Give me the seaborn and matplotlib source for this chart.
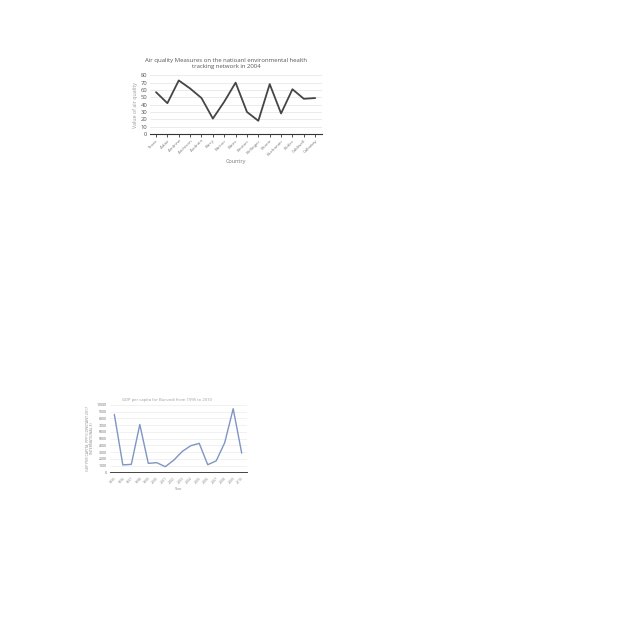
import matplotlib
matplotlib.use("Agg")
import matplotlib.pyplot as plt
import seaborn as sns
import pandas as pd

# ---- data: top chart ----
counties = ["Texas", "Adair", "Andrew", "Atchison", "Audrain", "Barry", "Barton",
            "Bates", "Benton", "Bollinger", "Boone", "Buchanan", "Butler",
            "Caldwell", "Callaway"]
air_quality = [57, 42, 73, 62, 49, 21, 44, 70, 30, 18, 68, 28, 61, 48, 49]
aq_yticks = [0, 10, 20, 30, 40, 50, 60, 70, 80]

# ---- data: bottom chart ----
years = ["1995", "1996", "1997", "1998", "1999", "2000", "2001", "2002",
         "2003", "2004", "2005", "2006", "2007", "2008", "2009", "2010"]
gdp = [8600, 1100, 1180, 7100, 1330, 1430, 830, 1800,
       3100, 3950, 4300, 1130, 1700, 4400, 9450, 2850]
gdp_yticks = [0, 1000, 2000, 3000, 4000, 5000, 6000, 7000, 8000, 9000, 10000]

sns.set_theme(style="white")
plt.rcParams['font.family'] = ['Open Sans', 'DejaVu Sans']

fig = plt.figure(figsize=(6.4, 6.4), dpi=100)
fig.patch.set_facecolor("white")

W = H = 640.0
def rect(x0, x1, y0, y1):
    return [x0 / W, 1 - y1 / H, (x1 - x0) / W, (y1 - y0) / H]

# ---------------- top chart ----------------
ax1 = fig.add_axes(rect(150, 322, 75.3, 134))
df1 = pd.DataFrame({"Country": counties, "Value": air_quality})
sns.lineplot(data=df1, x="Country", y="Value", ax=ax1, color="#454545",
             linewidth=1.3, sort=False)
ax1.set_ylim(0, 80)
ax1.set_xlim(-0.53, len(counties) - 1 + 0.6)
ax1.set_yticks(aq_yticks)
ax1.set_yticklabels([str(v) for v in aq_yticks], fontsize=4.2, color="#555555")
ax1.set_xticks(range(len(counties)))
ax1.set_xticklabels(counties, rotation=45, ha="right", rotation_mode="anchor",
                    fontsize=3.2, color="#777777")
ax1.grid(axis="y", color="#e3e3e3", linewidth=0.5)
ax1.grid(axis="x", visible=False)
for s in ["top", "right", "left"]:
    ax1.spines[s].set_visible(False)
ax1.spines["bottom"].set_color("#333333")
ax1.spines["bottom"].set_linewidth(0.8)
ax1.tick_params(axis="x", which="both", bottom=True, length=2, width=0.6,
                color="#333333", pad=1.5)
ax1.tick_params(axis="y", length=0, pad=2)
ax1.set_xlabel("Country", fontsize=4, color="#777777", labelpad=2)
ax1.set_ylabel("Value of air quality", fontsize=3.8, color="#999999", labelpad=2)
ax1.set_title("Air quality Measures on the natioanl environmental health\ntracking network in 2004",
              fontsize=4.3, color="#555555", pad=5, linespacing=1.3, x=0.442)

# ---------------- bottom chart ----------------
ax2 = fig.add_axes(rect(110, 246.7, 405, 472.3))
df2 = pd.DataFrame({"Year": years, "GDP": gdp})
sns.lineplot(data=df2, x="Year", y="GDP", ax=ax2, color="#7f95c4",
             linewidth=1.0, sort=False)
ax2.set_ylim(0, 10000)
ax2.set_xlim(-0.51, len(years) - 1 + 0.59)
ax2.set_yticks(gdp_yticks)
ax2.set_yticklabels([str(v) for v in gdp_yticks], fontsize=2.5, color="#666666")
ax2.set_xticks(range(len(years)))
ax2.set_xticklabels(years, rotation=45, ha="right", rotation_mode="anchor",
                    fontsize=2.5, color="#888888")
ax2.grid(axis="y", color="#e6e6e6", linewidth=0.4)
ax2.grid(axis="x", visible=False)
for s in ["top", "right", "left"]:
    ax2.spines[s].set_visible(False)
ax2.spines["bottom"].set_color("#444444")
ax2.spines["bottom"].set_linewidth(0.7)
ax2.tick_params(axis="x", length=0, pad=2.5)
ax2.tick_params(axis="y", length=0, pad=2)
ax2.set_xlabel("Year", fontsize=2.5, color="#888888", labelpad=2)
ax2.set_ylabel("GDP PER CAPITA, PPP (CONSTANT 2017\nINTERNATIONAL $)", fontsize=2.5,
               color="#888888", labelpad=2, linespacing=1.4)
ax2.set_title("GDP per capita for Burundi from 1995 to 2010", fontsize=3,
              color="#999999", pad=3, x=0.417)

fig.savefig("out.png", dpi=100, facecolor="white")
